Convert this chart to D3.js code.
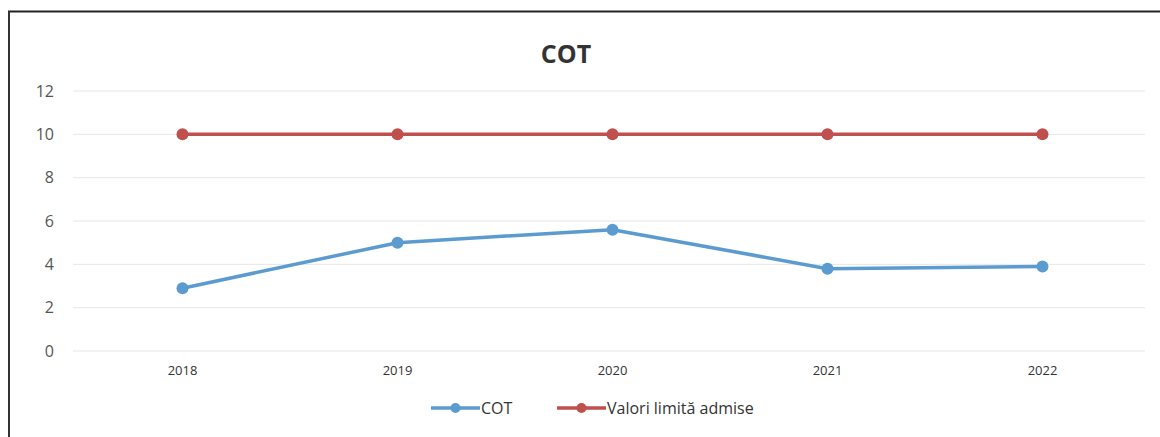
<!DOCTYPE html>
<html>
<head>
<meta charset="utf-8">
<script src="https://cdn.jsdelivr.net/npm/d3@7"></script>
<style>
  body { margin: 0; background: #fff; }
  svg { display: block; font-family: "Open Sans", "Liberation Sans", sans-serif; }
</style>
</head>
<body>
<div id="chart"></div>
<script>
const years = ["2018", "2019", "2020", "2021", "2022"];
const cot = [2.9, 5.0, 5.6, 3.8, 3.9];
const limita = [10, 10, 10, 10, 10];
const yTicks = [0, 2, 4, 6, 8, 10, 12];
const seriesNames = ["COT", "Valori limită admise"];

const width = 1160, height = 437;
const margin = {left: 75, right: 10, top: 91, bottom: 86};

const svg = d3.select("#chart").append("svg")
  .attr("width", width).attr("height", height);

// frame lines (scan border)
svg.append("line").attr("x1", 8).attr("x2", width).attr("y1", 11.5).attr("y2", 11.5)
  .attr("stroke", "#222").attr("stroke-width", 2);
svg.append("line").attr("x1", 9).attr("x2", 9).attr("y1", 11).attr("y2", height)
  .attr("stroke", "#333").attr("stroke-width", 2);

const x = d3.scaleBand().domain(years).range([margin.left, width - margin.right]);
const y = d3.scaleLinear().domain([0, 12]).range([height - margin.bottom, margin.top]);

// grid
svg.append("g").selectAll("line").data(yTicks).join("line")
  .attr("x1", 73).attr("x2", width - margin.right - 5)
  .attr("y1", d => y(d)).attr("y2", d => y(d))
  .attr("stroke", "#e6e6e6").attr("stroke-width", 1);

// y axis labels
const yAxis = d3.axisLeft(y).tickValues(yTicks).tickSize(0).tickPadding(0);
svg.append("g").attr("transform", "translate(54,0)").call(yAxis)
  .call(g => g.select(".domain").remove())
  .call(g => g.selectAll("text").attr("font-size", 16).attr("fill", "#555")
    .attr("font-family", "'Open Sans', sans-serif"));

// x axis labels
const xAxis = d3.axisBottom(x).tickSize(0).tickPadding(0);
svg.append("g").attr("transform", `translate(0,${y(0) + 15})`).call(xAxis)
  .call(g => g.select(".domain").remove())
  .call(g => g.selectAll("text").attr("font-size", 13).attr("fill", "#333")
    .attr("font-family", "'Open Sans', sans-serif"));

// title
svg.append("text").attr("x", 566).attr("y", 63).attr("text-anchor", "middle")
  .attr("font-size", 25).attr("font-weight", "bold").attr("fill", "#333").text("COT");

const series = [
  {name: seriesNames[0], values: cot, color: "#5b9bd0"},
  {name: seriesNames[1], values: limita, color: "#c0504d"}
];

const line = d3.line().x((d, i) => x(years[i]) + x.bandwidth() / 2).y(d => y(d));

series.forEach(s => {
  const g = svg.append("g");
  g.append("path").datum(s.values).attr("d", line)
    .attr("fill", "none").attr("stroke", s.color).attr("stroke-width", 3.5)
    .attr("stroke-linejoin", "round");
  g.selectAll("circle").data(s.values).join("circle")
    .attr("cx", (d, i) => x(years[i]) + x.bandwidth() / 2)
    .attr("cy", d => y(d)).attr("r", 6).attr("fill", s.color);
});

// legend
const legendY = 408;
const legendX = [431, 557];
series.forEach((s, i) => {
  const g = svg.append("g").attr("transform", `translate(${legendX[i]},${legendY})`);
  g.append("line").attr("x1", 0).attr("x2", 49).attr("stroke", s.color).attr("stroke-width", 3.5);
  g.append("circle").attr("cx", 24.5).attr("r", 5).attr("fill", s.color);
  g.append("text").attr("x", 50).attr("y", 6).attr("font-size", 16).attr("fill", "#333").text(s.name);
});
</script>
</body>
</html>
